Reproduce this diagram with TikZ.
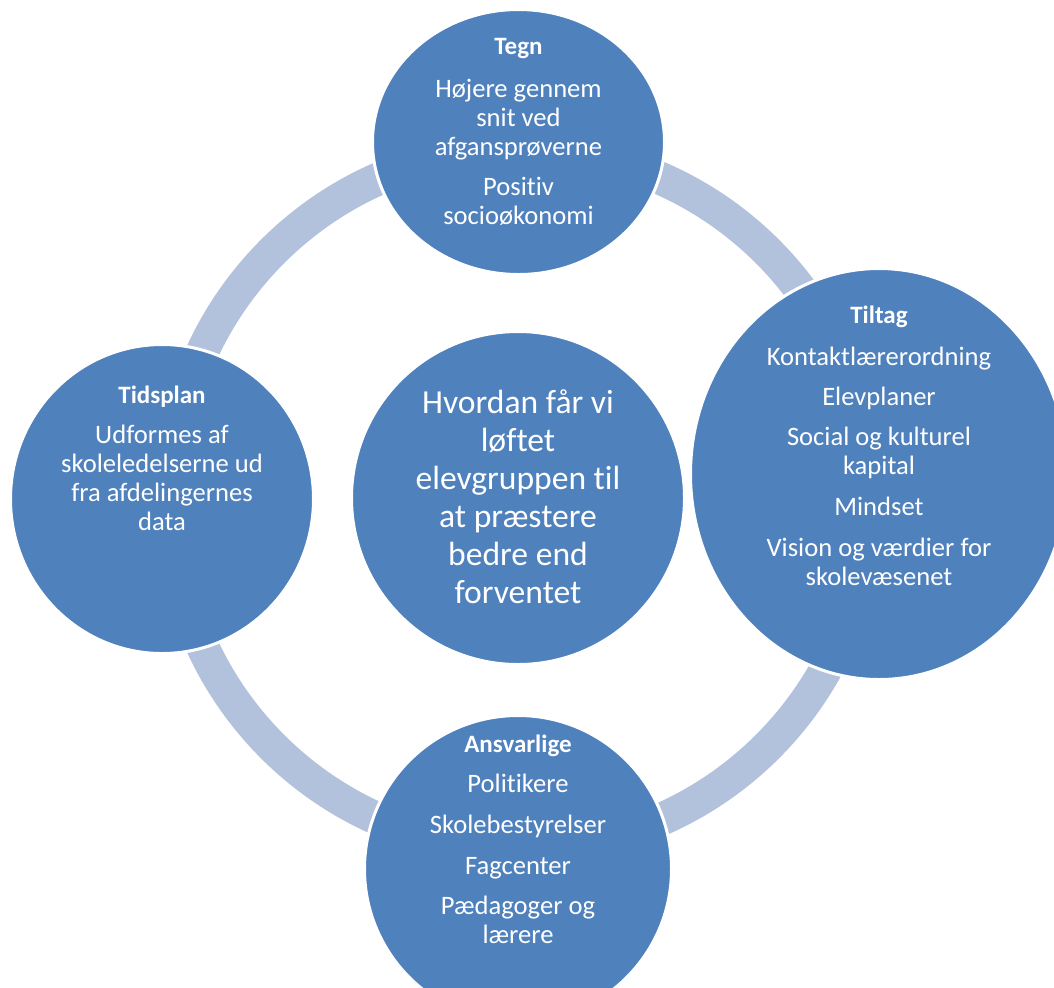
\documentclass[tikz,border=0pt]{standalone}
\usepackage{fontspec}
\setmainfont{Carlito}[Ligatures=NoCommon]
\usetikzlibrary{shapes.geometric}
\definecolor{blobfill}{HTML}{4F81BD}
\definecolor{ringcol}{HTML}{B3C2DC}
\begin{document}
\begin{tikzpicture}[x=0.5pt,y=-0.5pt,
  blob/.style={ellipse, fill=blobfill, draw=white, line width=1.5pt, inner sep=0pt},
  txt/.style={text=white, align=flush center, anchor=base, inner sep=0pt, text width=170pt,
    font=\fontsize{13.3}{14.5}\selectfont},
  bigtxt/.style={text=white, align=flush center, anchor=base, inner sep=0pt, text width=170pt,
    font=\fontsize{16.8}{19}\selectfont}]
\useasboundingbox (0,0) rectangle (1054,987);
% ring
\node[circle, draw=ringcol, line width=16.5pt, minimum size=350pt, inner sep=0pt] (ring) at (520,499) {};
% circles
\node[blob, minimum width=146pt, minimum height=132.5pt] (tegn) at (518.5,142) {};
\node[blob, minimum width=188.5pt, minimum height=205.5pt] (tiltag) at (879,474) {};
\node[blob, minimum width=151.5pt, minimum height=154.5pt] (tidsplan) at (162,499) {};
\node[blob, minimum width=153.5pt, minimum height=153.5pt] (ansvar) at (518,869) {};
\node[blob, minimum width=166.5pt, minimum height=166.5pt] (center) at (518,498) {};
% texts
\newcommand{\hdtext}[1]{{\fontsize{12.5}{14.5}\selectfont\bfseries #1}}
\node[txt] (tegnT) at (518.5,54) {\hdtext{Tegn}\\[7pt]
  Højere gennem\\snit ved\\afgansprøverne\\[5.5pt]Positiv\\socioøkonomi};
\node[txt] (tiltagT) at (879,323) {\hdtext{Tiltag}\\[6.5pt]
  Kontaktlærerordning\\[5.5pt]Elevplaner\\[5.5pt]Social og kulturel\\kapital\\[6pt]Mindset\\[6pt]
  Vision og værdier for\\skolevæsenet};
\node[txt] (tidsplanT) at (162,403) {\hdtext{Tidsplan}\\[5.5pt]
  Udformes af\\skoleledelserne ud\\fra afdelingernes\\data};
\node[txt] (ansvarT) at (518,752) {\hdtext{Ansvarlige}\\[5.5pt]
  Politikere\\[6pt]Skolebestyrelser\\[6pt]Fagcenter\\[5.5pt]Pædagoger og\\lærere};
\node[bigtxt] (centerT) at (518,413) {Hvordan får vi\\løftet\\elevgruppen til\\at præstere\\bedre end\\forventet};
\end{tikzpicture}
\end{document}
